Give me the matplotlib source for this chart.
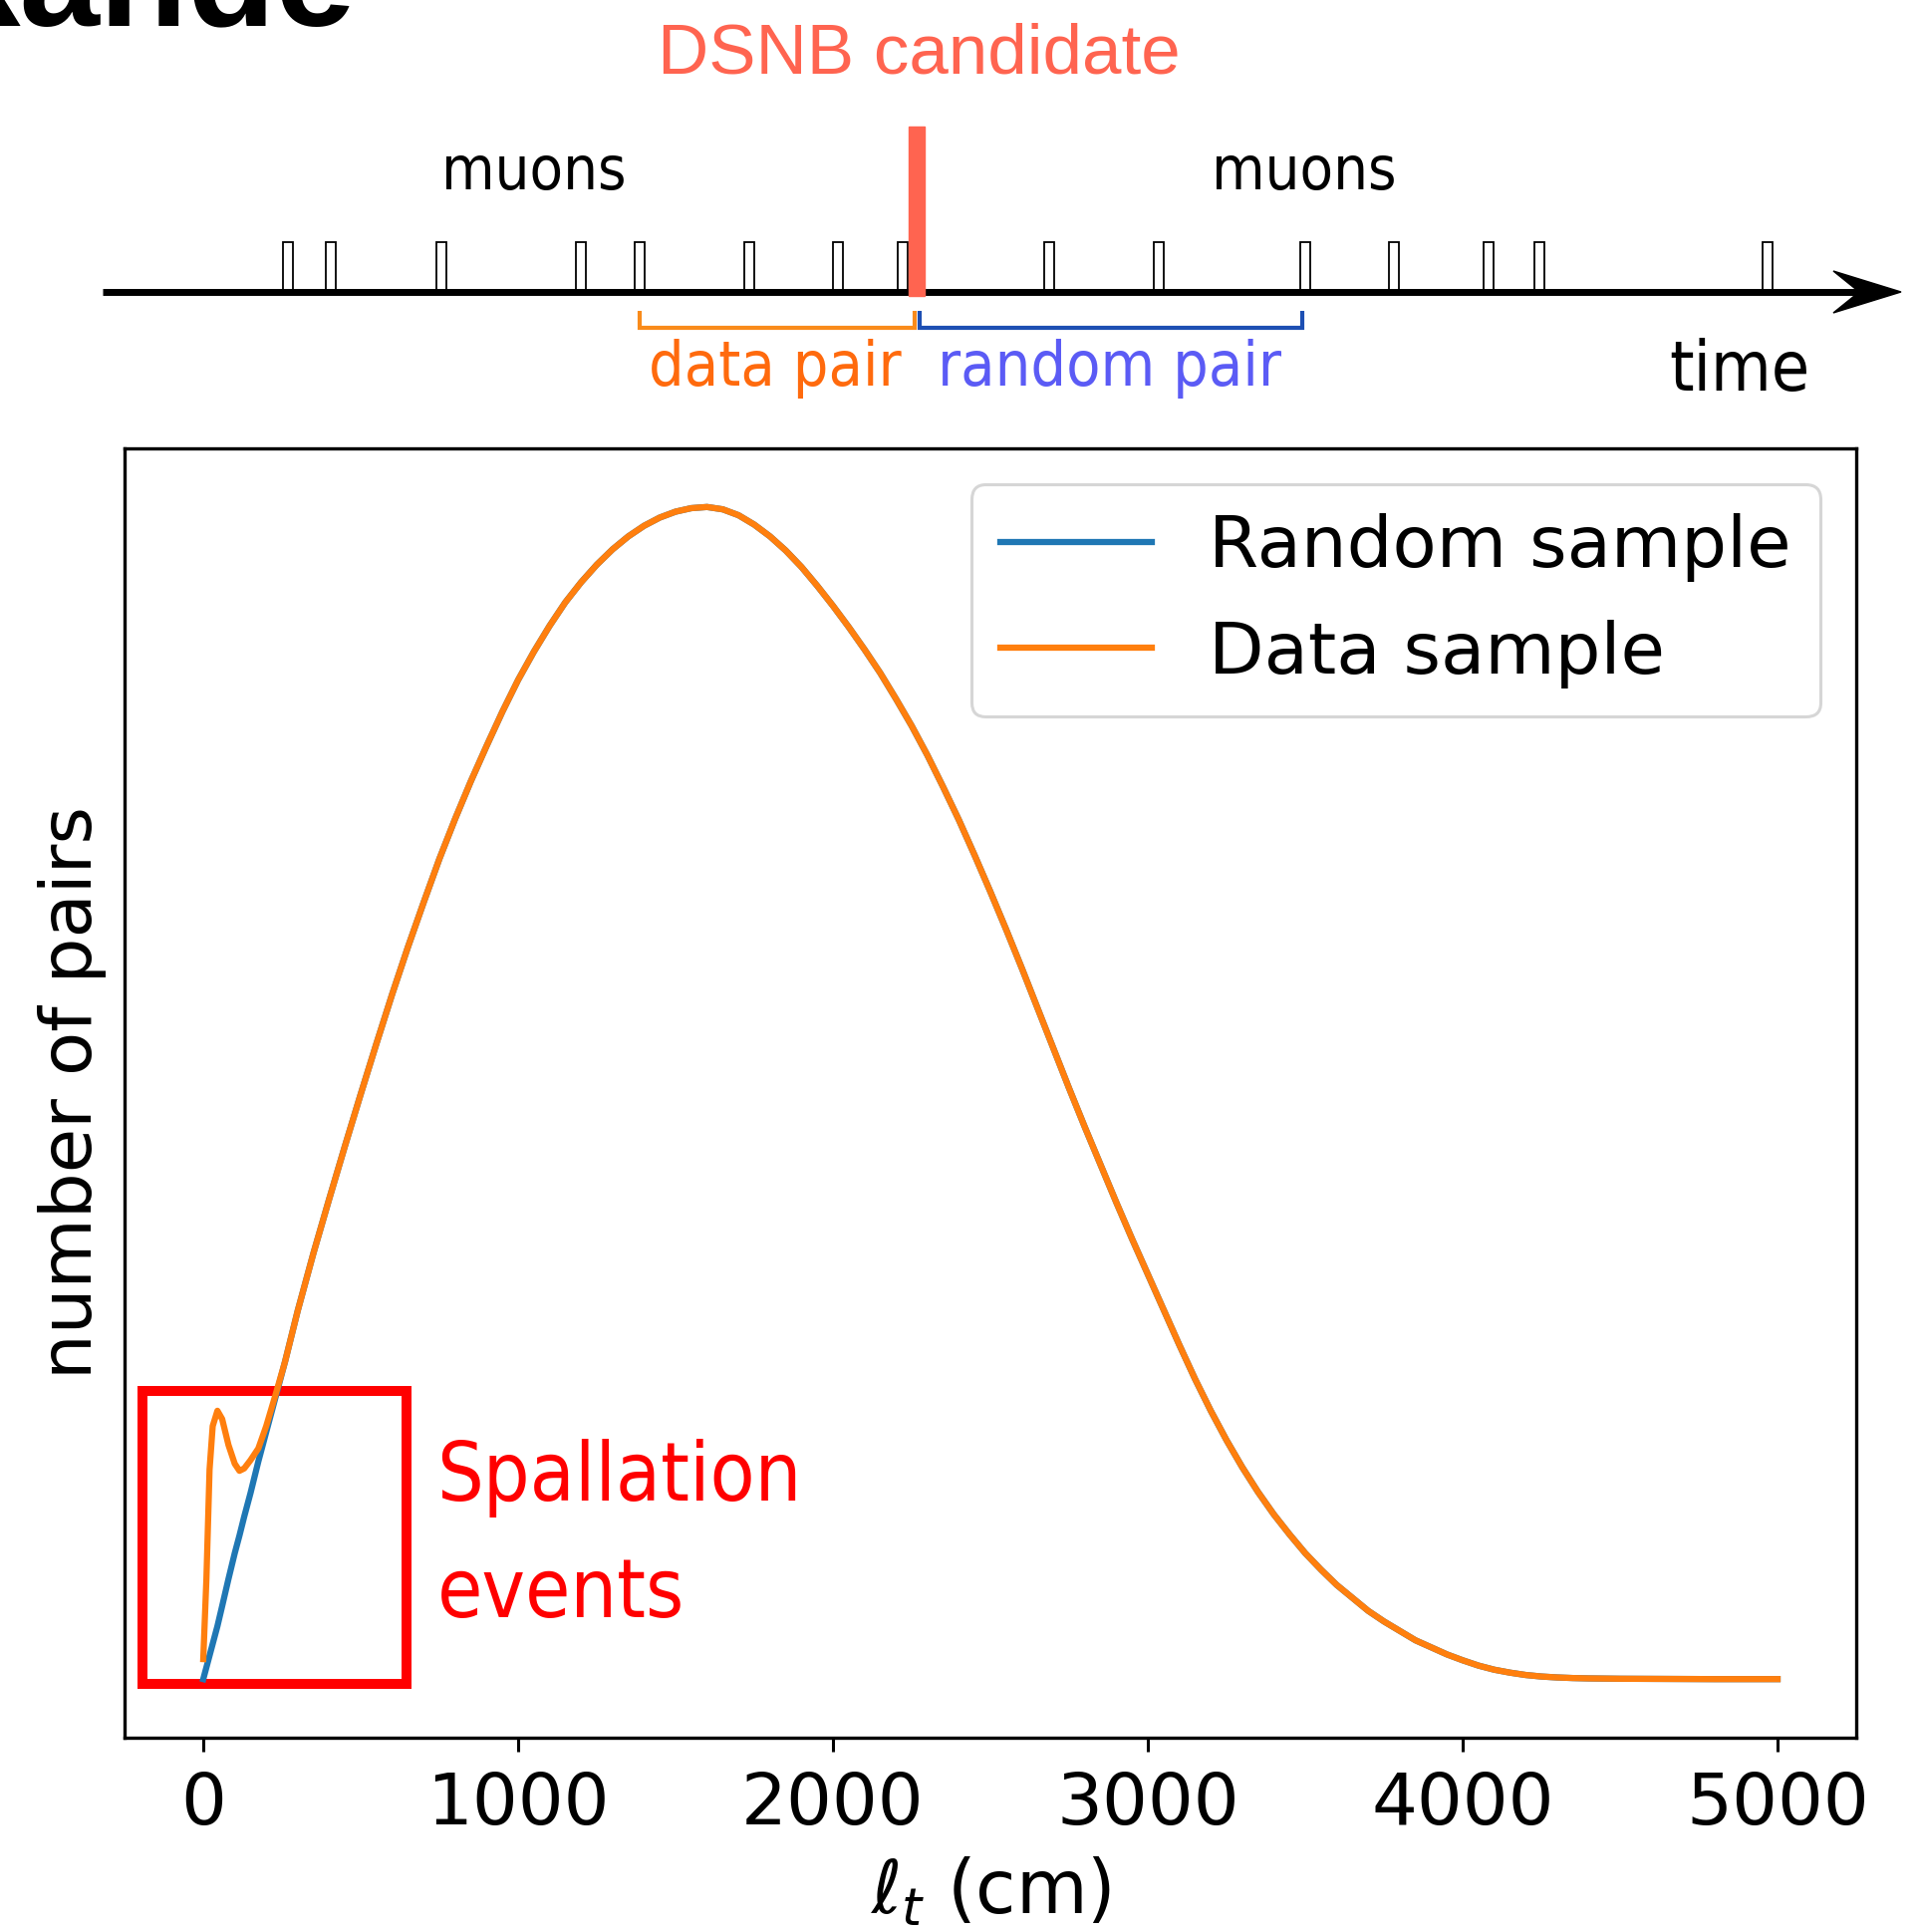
import matplotlib
matplotlib.use("Agg")
import matplotlib.pyplot as plt
from matplotlib.patches import Rectangle, Polygon

plt.rcParams['font.family'] = 'DejaVu Sans'

# transverse distance between the pair (cm)
lt_cm = ([0, 10, 20, 30, 45, 60, 80, 100, 115, 130, 150, 175, 200, 230, 260]
         + list(range(300, 4401, 50))
         + [4500, 4600, 4700, 4800, 4900, 5000])

# number of pairs, normalised to the peak
random_pairs = [
    0.0, 0.010, 0.020, 0.030, 0.045, 0.062, 0.085, 0.107, 0.122, 0.138,
    0.158, 0.185, 0.210, 0.240, 0.270,
    # 300 .. 4400 every 50 cm
    0.313, 0.362, 0.408, 0.453, 0.497, 0.540, 0.582, 0.622, 0.660, 0.697,
    0.731, 0.763, 0.793, 0.822, 0.849, 0.873, 0.895, 0.915, 0.932, 0.947,
    0.960, 0.971, 0.980, 0.987, 0.992, 0.995, 0.996, 0.994, 0.989, 0.981,
    0.971, 0.959, 0.945, 0.929, 0.912, 0.894, 0.875, 0.855, 0.833, 0.810,
    0.785, 0.758, 0.730, 0.700, 0.669, 0.637, 0.604, 0.570, 0.536, 0.502,
    0.469, 0.437, 0.405, 0.374, 0.344, 0.314, 0.284, 0.255, 0.228, 0.203,
    0.180, 0.159, 0.140, 0.123, 0.107, 0.093, 0.080, 0.069, 0.058, 0.049,
    0.041, 0.033, 0.027, 0.021, 0.016, 0.0115, 0.008, 0.0055, 0.0035, 0.0022,
    0.0014, 0.0009, 0.0006,
    0.0003, 0.0002, 0.0001, 0.0, 0.0, 0.0,
]

# data sample: spallation excess at short distance, then same as random
data_head = [0.017, 0.085, 0.178, 0.215, 0.228, 0.221, 0.199, 0.183, 0.177,
             0.179, 0.186, 0.196, 0.215, 0.242, 0.270]
data_pairs = data_head + random_pairs[len(data_head):]

# timeline sketch (arbitrary time units = pixels)
muon_times = [289, 332, 443, 583, 642, 752, 841, 906,
              1053, 1163, 1310, 1399, 1494, 1545, 1774]
candidate_time = 920
data_pair_span = (642, 918)
random_pair_span = (923, 1307)

W, H = 1926, 1939
fig = plt.figure(figsize=(W / 100, H / 100), dpi=100)

# ---- plot ----
ax = fig.add_axes([125 / W, 1 - 1744 / H, 1738 / W, 1294 / H])
ax.plot(lt_cm, random_pairs, color='#1f77b4', lw=4.5, label='Random sample', zorder=3)
ax.plot(lt_cm, data_pairs, color='#ff7f0e', lw=4.5, label='Data sample', zorder=4)

lo = min(random_pairs + data_pairs)
hi = max(random_pairs + data_pairs)
pad = 0.05 * (hi - lo)
ax.set_xlim(-250, 5250)
ax.set_ylim(lo - pad, hi + pad)
ax.set_yticks([])
ax.set_xticks([0, 1000, 2000, 3000, 4000, 5000])
ax.tick_params(axis='x', labelsize=52, length=10, width=2.2, pad=14)
for s in ax.spines.values():
    s.set_linewidth(2.4)
ax.set_xlabel(r'$\ell_t$ (cm)', fontsize=53, labelpad=12)
ax.set_ylabel('number of pairs', fontsize=52, labelpad=13)

leg = ax.legend(loc='upper right', fontsize=52, labelspacing=0.52,
                handlelength=2.1, handletextpad=0.8, borderaxespad=0.5)
leg.get_frame().set_linewidth(2.2)

# spallation highlight
ax.add_patch(Rectangle((-193, -0.004), 839, 0.249, fill=False,
                       edgecolor='red', lw=7.2, zorder=2))
ax.text(742, 0.053, 'Spallation\nevents', color='red', fontsize=59,
        fontstretch='condensed', ha='left', va='baseline', linespacing=1.6)

# ---- timeline sketch on top, in pixel coordinates ----
top = fig.add_axes([0, 0, 1, 1])
top.set_xlim(0, W)
top.set_ylim(H, 0)
top.axis('off')

line_y = 293
for t in muon_times:
    top.add_patch(Rectangle((t - 5, 243), 10, line_y - 243, facecolor='white',
                            edgecolor='black', lw=1.3, zorder=2))
top.plot([103, 1868], [line_y, line_y], color='black', lw=5,
         solid_capstyle='butt', zorder=3)
top.add_patch(Polygon([[1908, line_y], [1840, line_y - 21], [1866, line_y],
                       [1840, line_y + 21]], closed=True, color='black', zorder=4))
top.add_patch(Rectangle((candidate_time - 8, 127), 16, 170, color='#ff6450', zorder=5))


def bracket(span, color):
    x0, x1 = span
    top.plot([x0, x0, x1, x1], [312, 329, 329, 312], color=color, lw=3,
             solid_joinstyle='miter', solid_capstyle='butt')


bracket(data_pair_span, '#f98b1b')
bracket(random_pair_span, '#1d4fb3')

cond = dict(fontstretch='condensed', va='baseline')
top.text(536, 190, 'muons', fontsize=44, ha='center', **cond)
top.text(1309, 190, 'muons', fontsize=44, ha='center', **cond)
top.text(651, 387, 'data pair', fontsize=45, color='#ff6a0d', ha='left', **cond)
top.text(941, 387, 'random pair', fontsize=45, color='#5b5bf5', ha='left', **cond)
top.text(1675, 392, 'time', fontsize=50, ha='left', **cond)

top.text(922, 74, 'DSNB candidate', family='Liberation Sans',
         fontsize=51, color='#ff6450', ha='center', va='baseline')
top.text(357, 25, 'kande', family='Liberation Sans',
         weight='bold', fontsize=104, ha='right', va='baseline')

fig.savefig('out.png', dpi=100)
